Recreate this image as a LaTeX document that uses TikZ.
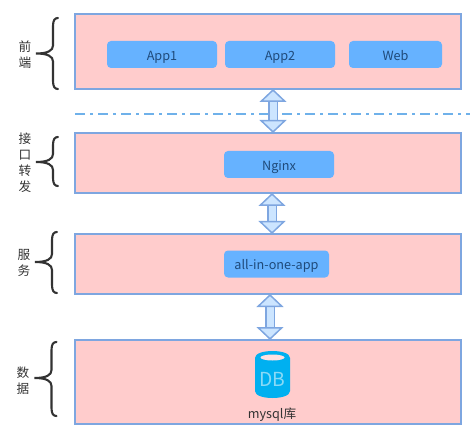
\documentclass[tikz,border=0pt]{standalone}
\usepackage{fontspec}
\setmainfont{Noto Sans CJK SC}
\usetikzlibrary{arrows.meta}
\definecolor{layerfill}{HTML}{FFCCCC}
\definecolor{layerline}{HTML}{7EA6E0}
\definecolor{appfill}{HTML}{66B2FF}
\definecolor{apptext}{HTML}{1F4A7A}
\definecolor{arrowfill}{HTML}{CCE5FF}
\definecolor{dashline}{HTML}{6FB1EA}
\definecolor{dbfill}{HTML}{00B0F0}
\definecolor{dbtext}{HTML}{8ADAF6}
\definecolor{labeltext}{HTML}{333333}
\tikzset{
  layer/.style={draw=layerline,fill=layerfill,line width=0.4mm,inner sep=0pt,outer sep=0pt},
  appbox/.style={fill=appfill,draw=none,rounded corners=0.8mm,inner sep=0pt,outer sep=0pt,
    minimum height=5.4mm,text height=2.4mm,text depth=0mm,text=apptext,font=\fontsize{7.2pt}{9pt}\selectfont},
  sidelabel/.style={text=labeltext,align=center,inner sep=0pt,font=\fontsize{7.2pt}{9.1pt}\selectfont},
  curly/.style={draw=labeltext,line width=0.42mm,line cap=round},
  updown/.style={draw=layerline,line width=0.3mm,double=arrowfill,double distance=1.4mm,
    {Triangle[length=2.6mm,width=5.4mm,fill=arrowfill,line width=0.3mm]}-{Triangle[length=2.6mm,width=5.4mm,fill=arrowfill,line width=0.3mm]}},
}
\begin{document}
\begin{tikzpicture}[x=0.2mm,y=-0.2mm]
\useasboundingbox (0,0) rectangle (470,434);
% layers
\node[layer,minimum width=77.2mm,minimum height=15mm] (front) at (268,51.5) {};
\node[layer,minimum width=77.2mm,minimum height=12mm] (proxy) at (268,163) {};
\node[layer,minimum width=77.2mm,minimum height=12mm] (service) at (268,264) {};
\node[layer,minimum width=77.2mm,minimum height=16.8mm] (data) at (268,382) {};
% boxes
\node[appbox,minimum width=22mm] (app1) at (162,54.5) {App1};
\node[appbox,minimum width=22mm] (app2) at (280,54.5) {App2};
\node[appbox,minimum width=18.6mm] (web) at (395.5,54.5) {Web};
\node[appbox,minimum width=22mm] (nginx) at (279,164.5) {Nginx};
\node[appbox,minimum width=21mm] (allinone) at (276.5,264) {all-in-one-app};
% database
\fill[dbfill] (255,358) .. controls (255,353.5) and (263,351) .. (272.5,351)
  .. controls (282,351) and (290,353.5) .. (290,358) -- (290,391)
  .. controls (290,395.5) and (282,398) .. (272.5,398)
  .. controls (263,398) and (255,395.5) .. (255,391) -- cycle;
\fill[layerfill!60!white] (272.5,357.5) ellipse (12 and 3);
\node[text=dbtext,font=\fontsize{11pt}{13pt}\selectfont,inner sep=0pt] (dbname) at (272.5,379) {DB};
\node[text=labeltext,font=\fontsize{7.2pt}{9pt}\selectfont,inner sep=0pt] (mysql) at (272,415) {mysql库};
% separator
\coordinate (sepl) at (75,113.7);
\coordinate (sepr) at (470,113.7);
\draw[dashline,line width=0.36mm,dash pattern=on 2mm off 1mm on 0.6mm off 1mm] (sepl) -- (sepr);
% arrows between the layers
\coordinate (a1) at (273,0);
\coordinate (a2) at (272,0);
\coordinate (a3) at (270,0);
\draw[updown] (a1 |- front.south) -- (a1 |- proxy.north);
\draw[updown] (a2 |- proxy.south) -- (a2 |- service.north);
\draw[updown] (a3 |- service.south) -- (a3 |- data.north);
% braces
\foreach \x/\t/\m/\b in {0/18/53.5/89, 0/137/162/186, -1/232/262/293, -1.5/342/378/416}
  \draw[curly] (58+\x,\t) .. controls (55+\x,\t) and (53+\x,\t+2) .. (53+\x,\t+8) -- (53+\x,\m-8)
    .. controls (53+\x,\m-3) and (48+\x,\m) .. (36+\x,\m)
    .. controls (48+\x,\m) and (53+\x,\m+3) .. (53+\x,\m+8) -- (53+\x,\b-8)
    .. controls (53+\x,\b-2) and (55+\x,\b) .. (58+\x,\b);
% labels
\node[sidelabel] (lfront) at (25,55) {前\\端};
\node[sidelabel] (lproxy) at (25,163) {接\\口\\转\\发};
\node[sidelabel] (lservice) at (24,263) {服\\务};
\node[sidelabel] (ldata) at (23,380.5) {数\\据};
\end{tikzpicture}
\end{document}
